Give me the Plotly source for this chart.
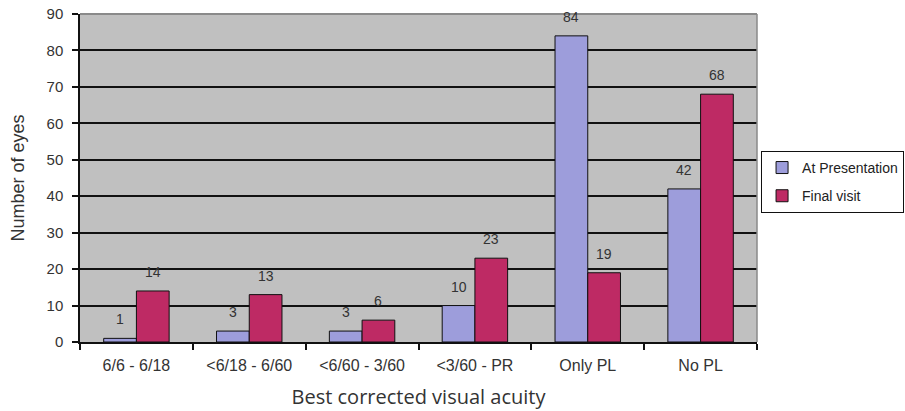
import plotly.graph_objects as go

categories = ["6/6 - 6/18", "<6/18 - 6/60", "<6/60 - 3/60", "<3/60 - PR", "Only PL", "No PL"]
at_presentation = [1, 3, 3, 10, 84, 42]
final_visit = [14, 13, 6, 23, 19, 68]
y_ticks = [0, 10, 20, 30, 40, 50, 60, 70, 80, 90]

ARIAL = "Liberation Sans, Arial"
FIG_W, FIG_H = 905, 411
M_L, M_R, M_T, M_B = 80, 148, 14, 69
PLOT_W = FIG_W - M_L - M_R
BARGAP = 0.42
bar_px = PLOT_W / len(categories) * (1 - BARGAP) / 2

fig = go.Figure()
fig.add_trace(go.Bar(
    name="At Presentation", x=categories, y=at_presentation, legendgroup="a",
    marker=dict(color="#9d9ddb", line=dict(color="#111111", width=1)),
))
fig.add_trace(go.Bar(
    name="Final visit", x=categories, y=final_visit, legendgroup="b",
    marker=dict(color="#be2a64", line=dict(color="#111111", width=1)),
))

annotations = []
for series, shift in ((at_presentation, -bar_px / 2), (final_visit, bar_px / 2)):
    for cat, val in zip(categories, series):
        annotations.append(dict(
            x=cat, y=val, text=str(val), showarrow=False,
            xshift=shift, yshift=19, yanchor="middle",
            font=dict(family=ARIAL, size=14, color="#333333"),
        ))

fig.update_layout(
    width=FIG_W, height=FIG_H,
    margin=dict(l=M_L, r=M_R, t=M_T, b=M_B, autoexpand=False),
    paper_bgcolor="white", plot_bgcolor="#c0c0c0",
    barmode="group", bargap=BARGAP, bargroupgap=0,
    font=dict(family=ARIAL, size=12, color="#333333"),
    showlegend=True,
    legend=dict(
        x=1.006, xanchor="left", y=0.488, yanchor="middle",
        bordercolor="#111111", borderwidth=1, bgcolor="white",
        font=dict(family=ARIAL, size=14, color="#222222"),
        tracegroupgap=7, itemwidth=30,
    ),
    annotations=annotations,
)
fig.update_xaxes(
    type="category", showgrid=False, tickson="boundaries", automargin=False,
    ticks="outside", ticklen=6, tickcolor="#111111", tickwidth=1.5,
    showline=True, linecolor="#111111", linewidth=1.5,
    ticklabelstandoff=8,
    tickfont=dict(family=ARIAL, size=16, color="#333333"),
    title=dict(text="Best corrected visual acuity",
               font=dict(family="Open Sans", size=20, color="#333333"),
               standoff=17),
)
fig.update_yaxes(
    range=[0, 90], tickvals=y_ticks, automargin=False,
    showgrid=True, gridcolor="#111111", gridwidth=1.5,
    ticks="outside", ticklen=6, tickcolor="#111111", tickwidth=1.5,
    showline=True, linecolor="#111111", linewidth=1.5,
    ticklabelstandoff=6, ticklabeloverflow="allow",
    tickfont=dict(family=ARIAL, size=15, color="#333333"),
    title=dict(text="Number of eyes",
               font=dict(family=ARIAL, size=18, color="#333333"),
               standoff=17),
    zeroline=False,
)
fig.add_shape(type="line", xref="paper", yref="paper", x0=0, x1=1, y0=1, y1=1,
              line=dict(color="#8a8a8a", width=2))
fig.add_shape(type="line", xref="paper", yref="paper", x0=1, x1=1, y0=0, y1=1,
              line=dict(color="#8a8a8a", width=1.5))

fig.write_html(
    "out.html",
    config={"displayModeBar": False},
    post_script="document.body.style.margin='0px';document.body.style.overflow='hidden';",
)
